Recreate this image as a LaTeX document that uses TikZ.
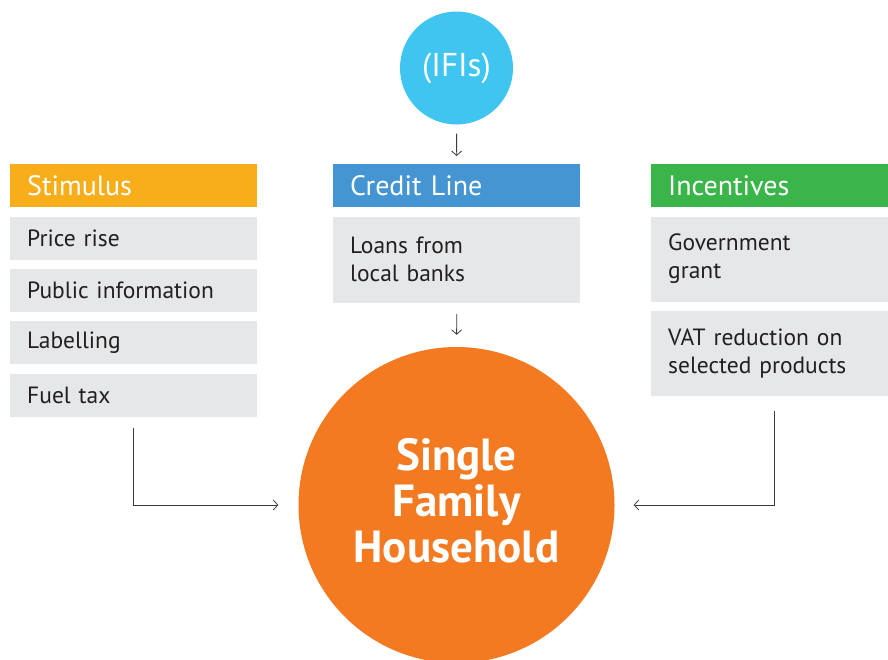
\documentclass[tikz,border=0pt]{standalone}
\usepackage{fontspec}
\setmainfont{PT Sans}
\usetikzlibrary{positioning, arrows.meta}

\definecolor{stimorange}{HTML}{F8AE1B}
\definecolor{creditblue}{HTML}{4495D1}
\definecolor{incgreen}{HTML}{3AB54A}
\definecolor{boxgray}{HTML}{E6E7E8}
\definecolor{ifiblue}{HTML}{3FC5F0}
\definecolor{houseorange}{HTML}{F47A22}
\definecolor{txtgray}{HTML}{231F20}
\definecolor{linegray}{HTML}{3C3C3C}

\tikzset{
  head/.style={anchor=north west, inner xsep=17pt, inner ysep=0pt, text width=213pt,
    minimum height=43pt, align=left, text=white, font=\fontsize{28}{30}\selectfont},
  item/.style={head, fill=boxgray, text=txtgray, font=\fontsize{23.5}{28}\selectfont},
  link/.style={->, linegray, line width=0.8pt},
  >={Straight Barb[length=4.5pt,width=10pt]}
}

\begin{document}
\begin{tikzpicture}[x=1pt, y=-1pt, node distance=9pt]
  \useasboundingbox (0,0) rectangle (888,659);
  \clip (0,0) rectangle (888,659);

  % left column
  \node [head, fill=stimorange] (stim) at (10,164) {Stimulus};
  \node [item, below=of stim] (price) {Price rise};
  \node [item, below=of price] (public) {Public information};
  \node [item, below=of public] (label) {Labelling};
  \node [item, below=of label] (fuel) {Fuel tax};

  % middle column
  \node [circle, fill=ifiblue, minimum size=113pt, inner sep=0, text=white,
    font=\fontsize{33}{36}\selectfont] (ifis) at (456.5,68) {(IFIs)};
  \node [head, fill=creditblue] (credit) at (333,164) {Credit Line};
  \node [item, below=of credit, minimum height=86pt] (loans) {Loans from\\local banks};

  % right column
  \node [head, fill=incgreen] (incent) at (651,164) {Incentives};
  \node [item, below=of incent, minimum height=85pt] (grant) {Government\\grant};
  \node [item, below=of grant, minimum height=85pt] (vat) {VAT reduction on\\selected products};

  % household
  \node [circle, fill=houseorange, minimum size=316pt, inner sep=0, text=white,
    align=center, text depth=10pt, font=\fontsize{45}{46}\selectfont\bfseries] (house)
    at (456.5,505) {Single\\Family\\Household};

  \draw [link, shorten <=9pt, shorten >=8pt] (ifis) -- (credit);
  \draw [link, shorten <=11pt, shorten >=12pt] (loans) -- (house);
  \draw [link, shorten <=11pt, shorten >=20pt] (fuel.south) |- (house.west);
  \draw [link, shorten <=15pt, shorten >=19pt] (vat.south) |- (house.east);
\end{tikzpicture}
\end{document}
